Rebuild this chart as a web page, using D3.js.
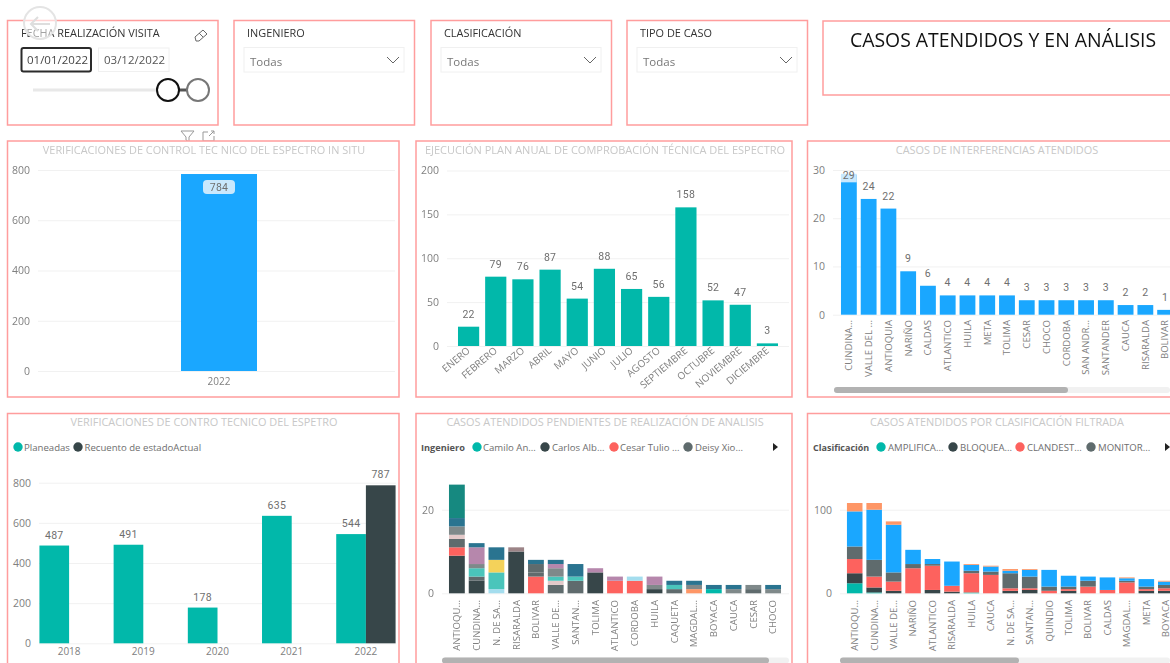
<!DOCTYPE html>
<head>
  <meta charset="utf-8">
  <script src="https://d3js.org/d3.v7.min.js"></script>
  <style>
    body { margin:0; background:#fff; overflow:hidden; }
    svg { filter: blur(0.35px); }
    text { font-family: "Open Sans", "Noto Sans", sans-serif; }
    .num { font-family: Roboto, sans-serif; font-size:10.5px; fill:#6f6f6f; letter-spacing:.3px; }
    .chartTitle { font-size:11px; fill:#c8c8c8; text-anchor:middle; }
    .tick text { fill:#808080; font-size:10.5px; }
    .grid .tick line { stroke:#f1f1f1; }
    .domain { display:none; }
  </style>
</head>
<body>
<div id="chart"></div>
<script>
  // data
  var anioUnico = ["2022"], visitas = [784];

  var meses = ["ENERO","FEBRERO","MARZO","ABRIL","MAYO","JUNIO","JULIO","AGOSTO","SEPTIEMBRE","OCTUBRE","NOVIEMBRE","DICIEMBRE"];
  var ejecucion = [22,79,76,87,54,88,65,56,158,52,47,3];

  var deptosInterf = ["CUNDINA...","VALLE DEL ...","ANTIOQUIA","NARIÑO","CALDAS","ATLANTICO","HUILA","META","TOLIMA","CESAR","CHOCO","CORDOBA","SAN ANDR...","SANTANDER","CAUCA","RISARALDA","BOLIVAR"];
  var interferencias = [29,24,22,9,6,4,4,4,4,3,3,3,3,3,2,2,1];

  var anios = ["2018","2019","2020","2021","2022"];
  var planeadas = [487,491,178,635,544];
  var recuento = [null,null,null,null,787];

  var deptosIng = ["ANTIOQU...","CUNDINA...","N. DE SA...","RISARALDA","BOLIVAR","VALLE DE...","SANTAN...","TOLIMA","ATLANTICO","CORDOBA","HUILA","CAQUETA","MAGDAL...","BOYACA","CAUCA","CESAR","CHOCO"];
  var ingLegend = ["Camilo An...","Carlos Alb...","Cesar Tulio ...","Deisy Xio..."];
  var ingCamilo  = [0,0,0,0,0,0,0,0,0,0,0,0,0,1,0,0,0];
  var ingCarlos  = [9,3,0,10,0,0,0,5,0,0,1,0,0,0,0,0,0];
  var ingCesar   = [2,0,0,0,4,0,0,0,3,3,0,0,0,0,0,0,0];
  var ingE       = [0,0,0,0,0,0,0,0,0,0,0,0,1,0,0,0,0];
  var ingDeisy   = [2,1,0,0,1,2,3,0,0,0,0,1,0,0,0,1,0];
  var ingF       = [0,0,0,0,2,0,0,0,0,0,0,0,0,0,0,0,0];
  var ingG       = [0,0,1,0,0,0,0,0,0,1,0,0,0,0,0,0,0];
  var ingH       = [1,0,0,0,0,1,0,0,0,0,0,0,0,0,0,0,0];
  var ingI       = [0,2,4,0,0,1,1,0,0,0,0,1,0,0,0,0,0];
  var ingJ       = [0,0,3,0,0,0,0,0,0,0,0,0,0,0,0,0,0];
  var ingK       = [2,1,0,0,0,2,0,0,0,0,1,0,1,0,1,1,1];
  var ingL       = [0,4,0,0,0,1,0,1,1,0,2,0,0,0,0,0,0];
  var ingM       = [0,0,0,1,0,0,0,0,0,0,0,0,0,0,0,0,0];
  var ingN       = [2,1,3,0,1,1,3,0,0,0,0,1,1,1,1,0,1];
  var ingO       = [8,0,0,0,0,0,0,0,0,0,0,0,0,0,0,0,0];
  var ingSeries = [ingCamilo,ingCarlos,ingCesar,ingE,ingDeisy,ingF,ingG,ingH,ingI,ingJ,ingK,ingL,ingM,ingN,ingO];
  var ingColors = ["#01b8aa","#374649","#fd625e","#fe9666","#5f6b6d","#5f6b6d","#a4ddee","#e3c9c9","#4ac5bb","#f4d25a","#7f898a","#b687ac","#9c8487","#2a7490","#168980"];

  var deptosClas = ["ANTIOQU...","CUNDINA...","VALLE DE...","NARIÑO","ATLANTICO","RISARALDA","HUILA","CAUCA","N. DE SA...","SANTAN...","QUINDIO","TOLIMA","BOLIVAR","CALDAS","MAGDAL...","META","BOYACA"];
  var clasLegend = ["AMPLIFICA...","BLOQUEA...","CLANDEST...","MONITOR..."];
  var clasAmplif = [12,1,0,0,0,0,1,0,0,0,0,0,0,0,0,0,0];
  var clasBloq   = [12,6,3,0,4,2,0,0,3,4,0,3,0,0,0,3,3];
  var clasCland  = [17,13,11,30,29,7,23,22,3,2,3,2,8,4,13,2,3];
  var clasMonit  = [15,20,11,5,2,0,3,4,18,14,5,3,7,0,2,3,4];
  var clasInterf = [42,60,57,17,6,29,7,6,3,8,20,13,5,15,3,9,4];
  var clasOtros  = [10,8,4,0,0,0,1,1,2,1,0,0,0,0,1,0,1];
  var clasSeries = [clasAmplif,clasBloq,clasCland,clasMonit,clasInterf,clasOtros];
  var clasColors = ["#01b8aa","#374649","#fd625e","#5f6b6d","#1aa7ff","#fe9666"];

  var azul = "#1aa7ff", verde = "#01b8aa", oscuro = "#374649", borde = "#ff9d9d";

  var svg = d3.select("#chart").append("svg")
    .attr("width", 1170)
    .attr("height", 663)
    .style("display", "block");

  function panel(x, y, w, h) {
    svg.append("rect")
      .attr("x", x).attr("y", y).attr("width", w).attr("height", h)
      .attr("fill", "#fff").attr("stroke", borde).attr("stroke-width", 1.5);
  }

  function chartTitle(txt, cx, y, size) {
    svg.append("text").attr("class", "chartTitle")
      .attr("x", cx).attr("y", y).style("font-size", size + "px").text(txt);
  }

  function yAxis(y, left, right, ticks) {
    var g = svg.append("g").attr("class", "grid")
      .attr("transform", "translate(" + left + ",0)")
      .call(d3.axisLeft(y).tickValues(ticks).tickSizeInner(left - right).tickSizeOuter(0).tickPadding(6));
    g.selectAll(".tick text").attr("x", -8);
    return g;
  }

  // etiquetas de categoria giradas
  function xLabels(x, baseY, rot, size) {
    var g = svg.append("g")
      .attr("transform", "translate(0," + baseY + ")")
      .call(d3.axisBottom(x).tickSize(0).tickPadding(0));
    g.selectAll(".tick text")
      .attr("text-anchor", "end")
      .attr("dy", "0.35em")
      .attr("y", 0)
      .attr("x", 0)
      .style("font-size", size + "px")
      .attr("transform", "rotate(" + rot + ")");
    return g;
  }

  function barLabels(x, y, cats, vals, offset) {
    svg.selectAll(null).data(vals).enter().filter(function(d) { return d != null; })
      .append("text").attr("class", "num").attr("text-anchor", "middle")
      .attr("x", function(d) { return x(cats[vals.indexOf(d)]) + x.bandwidth() / 2; })
      .attr("y", function(d) { return y(d) - offset; })
      .text(function(d) { return d; });
  }

  function stacked(cats, series, colors, y, x) {
    var rows = cats.map(function(c, i) {
      var r = { cat: c };
      series.forEach(function(s, k) { r[k] = s[i]; });
      return r;
    });
    var st = d3.stack().keys(series.map(function(s, k) { return k; }))(rows);
    svg.append("g").selectAll("g").data(st).enter().append("g")
      .attr("fill", function(d, k) { return colors[k]; })
      .selectAll("rect").data(function(d) { return d; }).enter()
      .filter(function(d) { return d[1] > d[0]; })
      .append("rect")
      .attr("x", function(d) { return x(d.data.cat); })
      .attr("width", x.bandwidth())
      .attr("y", function(d) { return y(d[1]); })
      .attr("height", function(d) { return y(d[0]) - y(d[1]); });
  }

  function legendItem(cx, cy, color, txt, tx) {
    svg.append("circle").attr("cx", cx).attr("cy", cy).attr("r", 4.7).attr("fill", color);
    svg.append("text").attr("x", tx).attr("y", cy + 4).attr("fill", "#6e6e6e").style("font-size", "9.6px").text(txt);
  }

  function scrollbar(x0, x1, xEnd, y) {
    svg.append("rect").attr("x", x0).attr("y", y - 3).attr("width", xEnd - x0).attr("height", 6).attr("rx", 3).attr("fill", "#f1f1f1");
    svg.append("rect").attr("x", x0).attr("y", y - 3).attr("width", x1 - x0).attr("height", 6).attr("rx", 3).attr("fill", "#b2b2b2");
  }

  function slicer(x, label) {
    panel(x - 13, 20.5, 180.5, 104.5);
    svg.append("text").attr("x", x).attr("y", 37).attr("fill", "#333").style("font-size", "10.9px").text(label);
    svg.append("rect").attr("x", x - 3).attr("y", 47.5).attr("width", 160).attr("height", 24.5).attr("fill", "#fff").attr("stroke", "#f0f0f0");
    svg.append("text").attr("x", x + 3).attr("y", 66).attr("fill", "#777").style("font-size", "11.5px").text("Todas");
    svg.append("path").attr("d", "M" + (x + 140) + " 57 l6 6 l6 -6").attr("fill", "none").attr("stroke", "#666");
  }

  // filtros de arriba
  panel(7.5, 20.5, 210.5, 104.5);
  svg.append("text").attr("x", 21).attr("y", 37).attr("fill", "#333").style("font-size", "10.9px").text("FECHA REALIZACIÓN VISITA");
  svg.append("circle").attr("cx", 40).attr("cy", 23).attr("r", 16).attr("fill", "#fff").attr("fill-opacity", .55).attr("stroke", "#e4e4e4").attr("stroke-width", 2);
  svg.append("path").attr("d", "M50 24 H31 M38 17 l-7 7 l7 7").attr("fill", "none").attr("stroke", "#dedede").attr("stroke-width", 2);
  svg.append("path").attr("d", "M195 37 l8 -7 l4 4 l-8 7 h-3 z M199 33 l4 4").attr("fill", "none").attr("stroke", "#666");
  svg.append("rect").attr("x", 21.5).attr("y", 48).attr("width", 69.5).attr("height", 23.5).attr("rx", 2).attr("fill", "#fff").attr("stroke", "#2b2b2b").attr("stroke-width", 2);
  svg.append("text").attr("x", 27).attr("y", 64).attr("fill", "#444").style("font-size", "11.5px").text("01/01/2022");
  svg.append("rect").attr("x", 98.5).attr("y", 48).attr("width", 70.5).attr("height", 23.5).attr("fill", "#fff").attr("stroke", "#f0f0f0");
  svg.append("text").attr("x", 104).attr("y", 64).attr("fill", "#555").style("font-size", "11.5px").text("03/12/2022");
  svg.append("line").attr("x1", 33).attr("x2", 168).attr("y1", 90).attr("y2", 90).attr("stroke", "#e8e8e8").attr("stroke-width", 3);
  svg.append("line").attr("x1", 168).attr("x2", 198).attr("y1", 90).attr("y2", 90).attr("stroke", "#555").attr("stroke-width", 3);
  svg.append("circle").attr("cx", 168).attr("cy", 90).attr("r", 11).attr("fill", "#fff").attr("stroke", "#111").attr("stroke-width", 2);
  svg.append("circle").attr("cx", 198).attr("cy", 90).attr("r", 11).attr("fill", "#fff").attr("stroke", "#777").attr("stroke-width", 2);

  slicer(247, "INGENIERO");
  slicer(444, "CLASIFICACIÓN");
  slicer(640, "TIPO DE CASO");

  panel(823, 21, 360, 74);
  svg.append("text").attr("x", 850).attr("y", 47).attr("fill", "#111").style("font-size", "19.4px").text("CASOS ATENDIDOS Y EN ANÁLISIS");

  // iconos sobre el primer grafico
  svg.append("path").attr("d", "M181 131 h13 l-5 6 v5 l-3 -2 v-3 z").attr("fill", "none").attr("stroke", "#999");
  svg.append("path").attr("d", "M208 132 h-5 v9 h11 v-5 M209 136 l5 -5 M211 131 h3 v3").attr("fill", "none").attr("stroke", "#999");

  // 1 - verificaciones in situ
  panel(7.5, 141, 391.5, 256);
  chartTitle("VERIFICACIONES DE CONTROL TEC NICO DEL ESPECTRO IN SITU", 204, 154, 10.9);
  var y1 = d3.scaleLinear().domain([0, 800]).range([371, 170]);
  yAxis(y1, 38, 395, [0, 200, 400, 600, 800]);
  svg.selectAll(null).data(visitas).enter().append("rect")
    .attr("x", 181).attr("width", 76)
    .attr("y", function(d) { return y1(d); })
    .attr("height", function(d) { return y1(0) - y1(d); })
    .attr("fill", azul);
  svg.append("rect").attr("x", 203).attr("y", 180).attr("width", 32).attr("height", 14).attr("rx", 4).attr("fill", "#c9e8fd");
  svg.append("text").attr("class", "num").attr("text-anchor", "middle").attr("x", 219).attr("y", 191).text(visitas[0]);
  svg.append("text").attr("x", 219).attr("y", 385).attr("text-anchor", "middle").attr("fill", "#808080").style("font-size", "10px").text(anioUnico[0]);

  // 2 - plan anual
  panel(416, 141, 376, 256);
  chartTitle("EJECUCIÓN PLAN ANUAL DE COMPROBACIÓN TÉCNICA DEL ESPECTRO", 605, 154, 11);
  var y2 = d3.scaleLinear().domain([0, 200]).range([346, 170.5]);
  var x2 = d3.scaleBand().domain(meses).range([455, 781]).paddingInner(0.22).paddingOuter(0.11);
  yAxis(y2, 447, 789, [0, 50, 100, 150, 200]);
  svg.selectAll(null).data(ejecucion).enter().append("rect")
    .attr("x", function(d, i) { return x2(meses[i]); })
    .attr("width", x2.bandwidth())
    .attr("y", function(d) { return y2(d); })
    .attr("height", function(d) { return y2(0) - y2(d); })
    .attr("fill", verde);
  barLabels(x2, y2, meses, ejecucion, 9);
  xLabels(x2, 349, -40, 10);

  // 3 - interferencias
  panel(807.5, 141, 376, 256);
  chartTitle("CASOS DE INTERFERENCIAS ATENDIDOS", 997, 154, 10.9);
  var y3 = d3.scaleLinear().domain([0, 30]).range([314.7, 170]);
  var x3 = d3.scaleBand().domain(deptosInterf).range([839, 1175]).paddingInner(0.2).paddingOuter(0.1);
  yAxis(y3, 833, 1170, [0, 10, 20, 30]);
  svg.selectAll(null).data(interferencias).enter().append("rect")
    .attr("x", function(d, i) { return x3(deptosInterf[i]); })
    .attr("width", x3.bandwidth())
    .attr("y", function(d) { return y3(d); })
    .attr("height", function(d) { return y3(0) - y3(d); })
    .attr("fill", azul);
  svg.append("rect").attr("x", x3(deptosInterf[0])).attr("y", y3(29) - 1).attr("width", x3.bandwidth()).attr("height", 8.5).attr("fill", "#c9e8fd");
  svg.selectAll(null).data(interferencias).enter().append("text").attr("class", "num").attr("text-anchor", "middle")
    .attr("x", function(d, i) { return x3(deptosInterf[i]) + x3.bandwidth() / 2; })
    .attr("y", function(d, i) { return i == 0 ? y3(d) + 4 : y3(d) - 9; })
    .text(function(d) { return d; });
  xLabels(x3, 320, -90, 9.6);
  scrollbar(834, 1068, 1170, 390);

  // 4 - verificaciones por anio
  panel(7.5, 413.5, 391.5, 256);
  chartTitle("VERIFICACIONES DE CONTRO TECNICO DEL ESPETRO", 204, 426, 10.9);
  legendItem(18, 447, verde, "Planeadas", 24);
  legendItem(78, 447, oscuro, "Recuento de estadoActual", 84.5);
  var y4 = d3.scaleLinear().domain([0, 800]).range([643.3, 482.7]);
  var x4 = d3.scaleBand().domain(anios).range([32, 403]).paddingInner(0.2).paddingOuter(0.1);
  var x4s = d3.scaleBand().domain(["planeadas", "recuento"]).range([0, x4.bandwidth()]);
  yAxis(y4, 39, 396, [0, 200, 400, 600, 800]);
  svg.selectAll(null).data(planeadas).enter().append("rect")
    .attr("x", function(d, i) { return x4(anios[i]) + x4s("planeadas"); })
    .attr("width", x4s.bandwidth())
    .attr("y", function(d) { return y4(d); })
    .attr("height", function(d) { return y4(0) - y4(d); })
    .attr("fill", verde);
  svg.selectAll(null).data(recuento).enter().filter(function(d) { return d != null; }).append("rect")
    .attr("x", x4(anios[4]) + x4s("recuento"))
    .attr("width", x4s.bandwidth())
    .attr("y", function(d) { return y4(d); })
    .attr("height", function(d) { return y4(0) - y4(d); })
    .attr("fill", oscuro);
  svg.selectAll(null).data(planeadas).enter().append("text").attr("class", "num").attr("text-anchor", "middle")
    .attr("x", function(d, i) { return x4(anios[i]) + x4s("planeadas") + x4s.bandwidth() / 2; })
    .attr("y", function(d) { return y4(d) - 7; })
    .text(function(d) { return d; });
  svg.append("text").attr("class", "num").attr("text-anchor", "middle")
    .attr("x", x4(anios[4]) + x4s("recuento") + x4s.bandwidth() / 2)
    .attr("y", y4(recuento[4]) - 7).text(recuento[4]);
  var gx4 = svg.append("g").attr("transform", "translate(0,643.3)")
    .call(d3.axisBottom(x4).tickSize(0).tickPadding(5));
  gx4.selectAll(".tick text").style("font-size", "10px");

  // 5 - pendientes por ingeniero
  panel(416, 413.5, 376, 256);
  chartTitle("CASOS ATENDIDOS PENDIENTES DE REALIZACIÓN DE ANALISIS", 605, 426, 10.9);
  svg.append("text").attr("x", 421).attr("y", 451).attr("fill", "#555").style("font-size", "9.2px").style("font-weight", 700).text("Ingeniero");
  var ingCx = [477, 545, 614, 688], ingTx = [483, 552, 620, 695];
  ingLegend.forEach(function(n, i) { legendItem(ingCx[i], 447, ingColors[[0,1,2,4][i]], n, ingTx[i]); });
  svg.append("path").attr("d", "M773 443 l5 4 l-5 4 z").attr("fill", "#222");
  var y5 = d3.scaleLinear().domain([0, 20]).range([593.3, 509.7]);
  var x5 = d3.scaleBand().domain(deptosIng).range([447, 783]).paddingInner(0.2).paddingOuter(0.1);
  yAxis(y5, 442, 789, [0, 20]);
  stacked(deptosIng, ingSeries, ingColors, y5, x5);
  xLabels(x5, 600, -90, 9.6);
  scrollbar(442, 769, 789, 660.5);

  // 6 - por clasificacion
  panel(807.5, 413.5, 376, 256);
  chartTitle("CASOS ATENDIDOS POR CLASIFICACIÓN FILTRADA", 997, 426, 10.9);
  svg.append("text").attr("x", 813).attr("y", 451).attr("fill", "#555").style("font-size", "9px").style("font-weight", 700).text("Clasificación");
  var clasCx = [881, 953, 1020, 1091], clasTx = [888, 960, 1027, 1098];
  clasLegend.forEach(function(n, i) { legendItem(clasCx[i], 447, clasColors[i], n, clasTx[i]); });
  svg.append("path").attr("d", "M1165 443 l5 4 l-5 4 z").attr("fill", "#222");
  var y6 = d3.scaleLinear().domain([0, 100]).range([593.3, 509.7]);
  var x6 = d3.scaleBand().domain(deptosClas).range([845, 1175.5]).paddingInner(0.2).paddingOuter(0.1);
  yAxis(y6, 840, 1170, [0, 100]);
  stacked(deptosClas, clasSeries, clasColors, y6, x6);
  xLabels(x6, 600, -90, 9.6);
  scrollbar(840, 1019, 1170, 660.5);
</script>
</body>
